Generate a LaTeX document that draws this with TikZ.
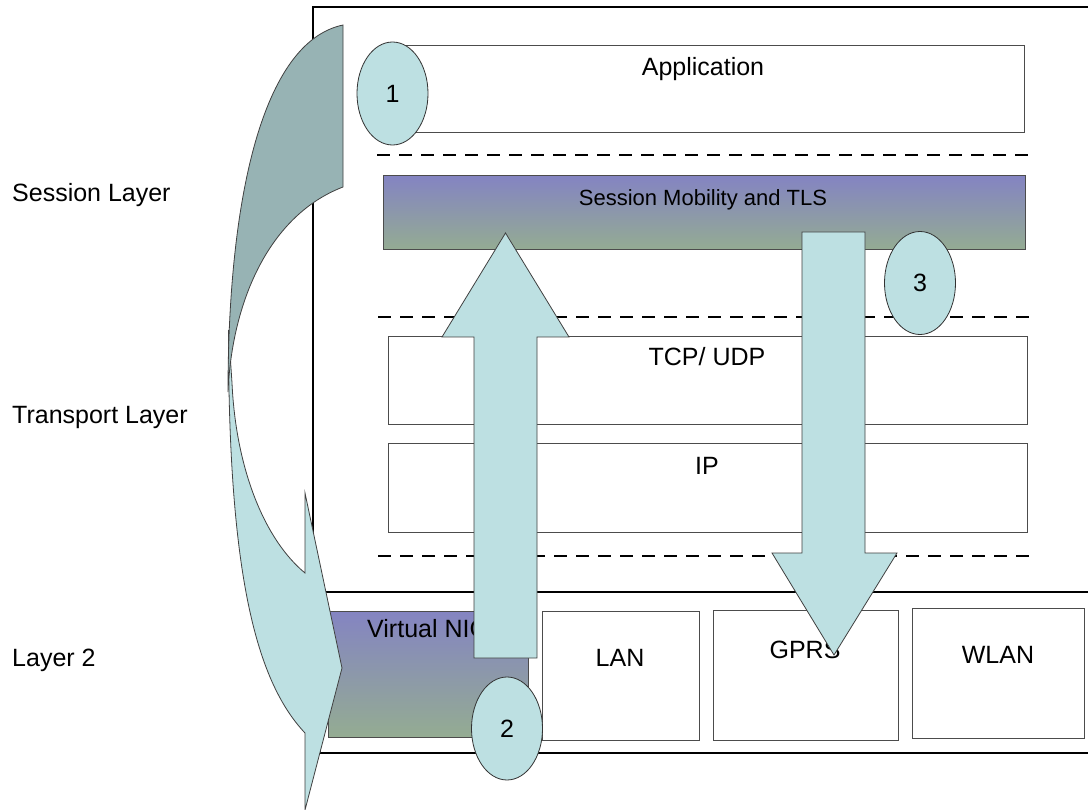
\documentclass[tikz,border=0pt]{standalone}
\usepackage{fontspec}
\setmainfont{Liberation Sans}
\usetikzlibrary{shapes.geometric}
\definecolor{arrowfill}{RGB}{189,224,226}
\definecolor{darkband}{RGB}{151,179,180}
\definecolor{grtop}{RGB}{132,132,194}
\definecolor{grbot}{RGB}{148,172,146}
\begin{document}
\begin{tikzpicture}[x=1pt,y=-1pt,
  box/.style={draw=black!70,line width=1pt,fill=white,rectangle,inner sep=0pt,outer sep=0pt},
  gradbox/.style={draw=black!70,line width=1pt,top color=grtop,bottom color=grbot,rectangle,inner sep=0pt,outer sep=0pt},
  frame/.style={draw=black,line width=2.4pt},
  dashline/.style={line width=2.8pt,dash pattern=on 13pt off 9pt},
  blockarrow/.style={draw=black!75,line width=0.8pt,fill=arrowfill,line join=miter},
  numcirc/.style={ellipse,draw=black!80,line width=0.8pt,fill=arrowfill,minimum width=71pt,minimum height=103pt,inner sep=0pt,font=\fontsize{25}{30}\selectfont},
  lbl/.style={font=\fontsize{25}{30}\selectfont,inner sep=0pt},
  slbl/.style={font=\fontsize{22}{26}\selectfont,inner sep=0pt},
]
\useasboundingbox (0,0) rectangle (1088,810);
\clip (0,0) rectangle (1088,810);
\fill[white] (0,0) rectangle (1088,810);

% outer frames
\draw[frame] (313,7) rectangle (1110,592);
\draw[frame] (320,592) rectangle (1110,753);

% boxes
\node[box,minimum width=636pt,minimum height=87pt] (app) at (706,89.5) {};
\node[gradbox,minimum width=642pt,minimum height=74pt] (sess) at (704,213) {};
\node[box,minimum width=639pt,minimum height=88pt] (tcp) at (707.5,381) {};
\node[box,minimum width=639pt,minimum height=88pt] (ip) at (707.5,488) {};
\node[gradbox,minimum width=200pt,minimum height=126pt] (vnic) at (428,674) {};
\node[box,minimum width=157pt,minimum height=129pt] (lan) at (620.5,675.5) {};
\node[box,minimum width=185pt,minimum height=130pt] (gprs) at (805.5,675) {};
\node[box,minimum width=172pt,minimum height=130pt] (wlan) at (998,673) {};

% texts
\node[lbl,anchor=base] (tapp) at (703,76) {Application};
\node[slbl,anchor=base] (tsess) at (703,206) {Session Mobility and TLS};
\node[lbl,anchor=base] (ttcp) at (707,366) {TCP/ UDP};
\node[lbl,anchor=base] (tip) at (707,475) {IP};
\node[lbl,anchor=base west] (tvnic) at (367,637) {Virtual NIC};
\node[lbl,anchor=base] (tlan) at (620,666) {LAN};
\node[lbl,anchor=base] (tgprs) at (805,658) {GPRS};
\node[lbl,anchor=base] (twlan) at (998,663) {WLAN};
\node[lbl,anchor=base west] (lsess) at (12,202) {Session Layer};
\node[lbl,anchor=base west] (ltrans) at (12,424) {Transport Layer};
\node[lbl,anchor=base west] (ll2) at (12,666) {Layer 2};

% dashed separators
\draw[dashline] (377,155) -- (1032,155);
\draw[dashline] (378,317) -- (1032,317);
\draw[dashline] (378,556) -- (1032,556);

% up arrow
\draw[blockarrow] (474,658) -- (474,337) -- (442,337) -- (505.5,233) -- (569,337) -- (537,337) -- (537,658) -- cycle;
% down arrow
\draw[blockarrow] (802,232) -- (865,232) -- (865,553) -- (897,553) -- (834,655) -- (772,553) -- (802,553) -- cycle;

% curved arrow: front band with head
\draw[blockarrow] (228.5,330) .. controls (228,570) and (255,680) .. (305,733) -- (305,810) -- (342,668) -- (305,493) -- (305,573) .. controls (265,540) and (236,470) .. (232,383) -- cycle;
% curved arrow: back band
\draw[blockarrow,fill=darkband] (343,25) .. controls (262,42) and (228,200) .. (228,392) .. controls (232,300) and (270,215) .. (343,187) -- cycle;

% numbered circles
\node[numcirc] (c1) at (392.5,93.5) {1};
\node[numcirc] (c2) at (507,728.5) {2};
\node[numcirc] (c3) at (920,283) {3};
\end{tikzpicture}
\end{document}
